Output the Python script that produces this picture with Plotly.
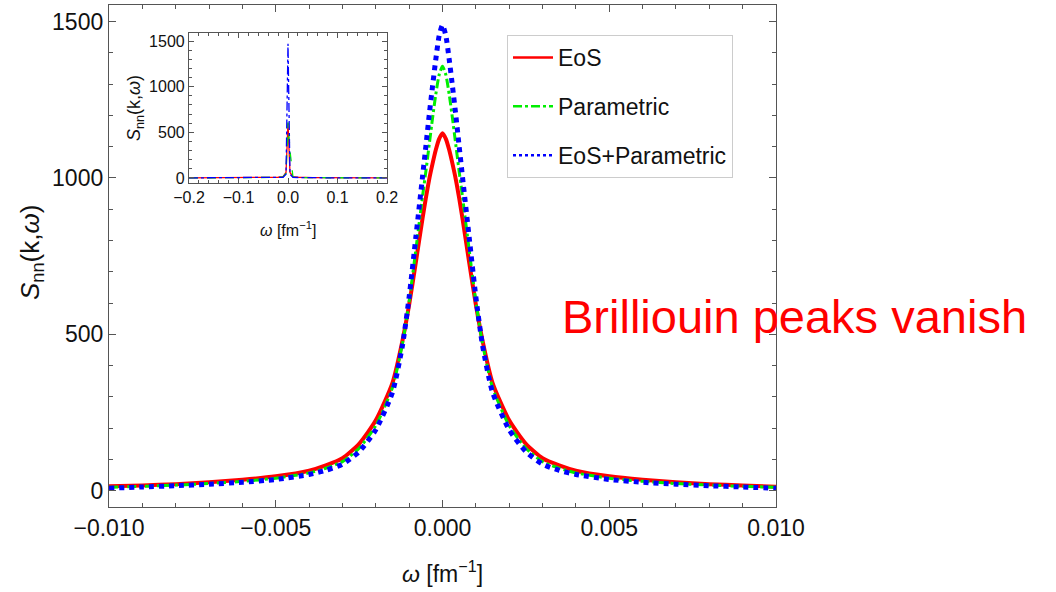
import plotly.graph_objects as go

# ---------------- data ----------------
omega = [-0.010, -0.009, -0.008, -0.007, -0.006, -0.005, -0.004, -0.0035, -0.003, -0.0025, -0.002,
         -0.0015, -0.0012, -0.001, -0.0008, -0.0006, -0.0005, -0.0004, -0.0003, -0.0002, -0.0001,
         0.0,
         0.0001, 0.0002, 0.0003, 0.0004, 0.0005, 0.0006, 0.0008, 0.001, 0.0012, 0.0015,
         0.002, 0.0025, 0.003, 0.0035, 0.004, 0.005, 0.006, 0.007, 0.008, 0.009, 0.010]

s_eos = [14, 17, 21, 27, 35, 46, 64, 81, 104, 150, 225,
         345, 480, 595, 730, 870, 935, 995, 1045, 1090, 1125,
         1143,
         1125, 1090, 1045, 995, 935, 870, 730, 595, 480, 345,
         225, 150, 104, 81, 64, 46, 35, 27, 21, 17, 13]

s_param = [11, 14, 18, 23, 30, 40, 57, 72, 93, 136, 208,
           330, 470, 605, 770, 940, 1020, 1105, 1190, 1268, 1330,
           1357,
           1330, 1268, 1190, 1105, 1020, 940, 770, 605, 470, 330,
           208, 136, 93, 72, 57, 40, 30, 23, 18, 14, 11]

s_both = [8, 12, 16, 21, 27, 36, 52, 65, 85, 125, 195,
          315, 465, 620, 810, 1003, 1100, 1200, 1292, 1380, 1455,
          1489,
          1455, 1380, 1292, 1200, 1100, 1003, 810, 620, 465, 315,
          195, 125, 85, 65, 52, 36, 27, 21, 16, 12, 8]

# inset (wide range, coarse sampling)
omega_in = [-0.2, -0.15, -0.1, -0.05, -0.02, -0.01, -0.004, 0.0, 0.004, 0.01, 0.02, 0.05, 0.1, 0.15, 0.2]
in_eos = [1, 1, 2, 4, 8, 14, 60, 600, 60, 14, 8, 4, 2, 1, 1]
in_param = [1, 1, 1, 3, 6, 11, 50, 610, 300, 11, 6, 3, 1, 1, 1]
in_both = [1, 1, 1, 2, 5, 8, 40, 1470, 40, 8, 5, 2, 1, 1, 1]

names = ["EoS", "Parametric", "EoS+Parametric"]
colors = ["#ff0000", "#00ee00", "#0000ff"]
dashes = ["solid", "dashdot", "dot"]

W, H = 1056, 592
FONT = "Liberation Sans, Arial, sans-serif"
AX = "#555555"

def px(x):
    return x / W

def py(y):
    return 1 - y / H

fig = go.Figure()

# main curves
for ys, c, d, w in zip([s_eos, s_param, s_both], colors, dashes, [4, 3, 5]):
    fig.add_trace(go.Scatter(x=omega, y=ys, mode="lines", showlegend=False,
                             line=dict(color=c, dash=d, width=w, shape="spline", smoothing=0.6),
                             xaxis="x", yaxis="y"))

# inset curves
for ys, c, d in zip([in_eos, in_param, in_both], colors, ["solid", "dash", "dashdot"]):
    fig.add_trace(go.Scatter(x=omega_in, y=ys, mode="lines", showlegend=False,
                             line=dict(color=c, dash=d, width=1.3),
                             xaxis="x2", yaxis="y2"))

# legend entries
for i, (n, c, d) in enumerate(zip(names, colors, dashes)):
    fig.add_trace(go.Scatter(x=[None], y=[None], mode="lines", name=n,
                             legendgroup=f"g{i}",
                             line=dict(color=c, dash=d, width=2.5)))

main_axis = dict(showline=True, linecolor=AX, linewidth=1.3, mirror="allticks",
                 ticks="inside", tickcolor=AX, showgrid=False, zeroline=False,
                 automargin=False,
                 tickfont=dict(family=FONT, size=23, color="#111111"))

fig.update_layout(
    width=W, height=H,
    margin=dict(l=0, r=0, t=0, b=0, pad=0, autoexpand=False),
    paper_bgcolor="white", plot_bgcolor="white",
    font=dict(family=FONT, color="#111111"),
    xaxis=dict(domain=[px(109), px(776)], range=[-0.010, 0.010],
               tickvals=[-0.010, -0.005, 0.0, 0.005, 0.010], tickformat=".3f",
               ticklen=7, tickwidth=1.2,
               minor=dict(dtick=0.001, ticklen=4, tickcolor=AX, ticks="inside"),
               anchor="y", **main_axis),
    yaxis=dict(domain=[py(507), py(5)], range=[-52, 1553],
               tickvals=[0, 500, 1000, 1500],
               ticklen=7, tickwidth=1.2,
               minor=dict(dtick=100, ticklen=4, tickcolor=AX, ticks="inside"),
               anchor="x", **main_axis),
    xaxis2=dict(domain=[px(189), px(387)], range=[-0.2, 0.2], anchor="y2",
                tickvals=[-0.2, -0.1, 0.0, 0.1, 0.2], tickformat=".1f",
                showline=True, linecolor=AX, linewidth=1.2, mirror="allticks",
                ticks="inside", ticklen=5, tickcolor=AX, showgrid=False, zeroline=False,
                automargin=False,
                minor=dict(dtick=0.02, ticklen=3, tickcolor=AX, ticks="inside"),
                tickfont=dict(family=FONT, size=16, color="#111111")),
    yaxis2=dict(domain=[py(183), py(33)], range=[-55, 1588], anchor="x2",
                tickvals=[0, 500, 1000, 1500],
                showline=True, linecolor=AX, linewidth=1.2, mirror="allticks",
                ticks="inside", ticklen=5, tickcolor=AX, showgrid=False, zeroline=False,
                automargin=False,
                minor=dict(dtick=100, ticklen=3, tickcolor=AX, ticks="inside"),
                tickfont=dict(family=FONT, size=16, color="#111111")),
    legend=dict(x=px(507), y=py(35), xanchor="left", yanchor="top",
                bgcolor="white", bordercolor="#cccccc", borderwidth=1,
                font=dict(family=FONT, size=23, color="#111111"),
                tracegroupgap=16, itemwidth=40),
    showlegend=True,
)

annots = [
    dict(text="<i>ω</i> [fm<sup>−1</sup>]", x=px(442), y=py(572), size=23, angle=0),
    dict(text="<i>S</i><sub>nn</sub>(k,<i>ω</i>)", x=px(31), y=py(253), size=26, angle=-90),
    dict(text="<i>ω</i> [fm<sup>−1</sup>]", x=px(288), y=py(229), size=16, angle=0),
    dict(text="<i>S</i><sub>nn</sub>(k,<i>ω</i>)", x=px(135), y=py(108), size=18, angle=-90),
]
for a in annots:
    fig.add_annotation(text=a["text"], x=a["x"], y=a["y"], xref="paper", yref="paper",
                       showarrow=False, textangle=a["angle"],
                       font=dict(family=FONT, size=a["size"], color="#111111"),
                       xanchor="center", yanchor="middle")

fig.add_annotation(text="Brilliouin peaks vanish", x=px(560), y=py(316), xref="paper", yref="paper",
                   showarrow=False, xanchor="left", yanchor="middle",
                   font=dict(family=FONT, size=47, color="#ff0000"))

fig.write_html("out.html")
